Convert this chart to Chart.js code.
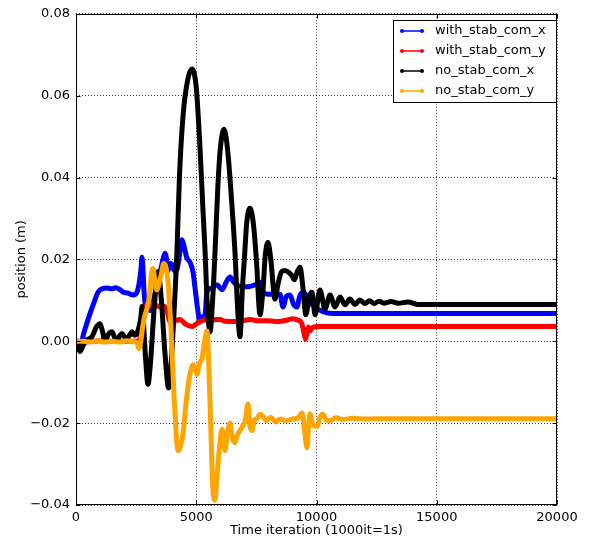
<!DOCTYPE html>
<html>
<head>
<meta charset="utf-8">
<script src="https://cdn.jsdelivr.net/npm/chart.js@4/dist/chart.umd.min.js"></script>
<style>
html,body{margin:0;padding:0;background:#fff;}
#wrap{width:594px;height:544px;position:relative;}
</style>
</head>
<body>
<div id="wrap"><canvas id="c" width="594" height="544"></canvas></div>
<script>
// ---- data (x = time iteration, y = position in m) ----
const seriesLabels = ['with_stab_com_x','with_stab_com_y','no_stab_com_x','no_stab_com_y'];
const seriesColors = ['#0000ff','#ff0000','#000000','#ffa500'];
const xTicks = [0,5000,10000,15000,20000];
const yTicks = [-0.04,-0.02,0.00,0.02,0.04,0.06,0.08];

const withStabComX = [[0,0.0002],[166,-0.0008],[350,0.0025],[550,0.0062],[750,0.0095],[915,0.0120],[1080,0.0128],[1300,0.0130],[1500,0.0128],[1650,0.0131],[1830,0.0126],[1954,0.0120],[2150,0.0118],[2370,0.0113],[2536,0.0120],[2620,0.0140],[2700,0.0175],[2744,0.0205],[2790,0.0170],[2830,0.0120],[2900,0.0085],[3000,0.0078],[3100,0.0075],[3300,0.0120],[3500,0.0170],[3620,0.0200],[3701,0.0215],[3780,0.0195],[3825,0.0172],[3920,0.0190],[3992,0.0188],[4100,0.0172],[4200,0.0175],[4300,0.0210],[4407,0.0248],[4500,0.0230],[4600,0.0205],[4740,0.0193],[4865,0.0169],[4950,0.0130],[5073,0.0072],[5156,0.0048],[5280,0.0060],[5364,0.0065],[5447,0.0122],[5650,0.0130],[5863,0.0138],[6071,0.0126],[6250,0.0145],[6403,0.0157],[6550,0.0145],[6694,0.0136],[6900,0.0134],[7110,0.0133],[7350,0.0136],[7526,0.0140],[7651,0.0144],[7775,0.0120],[8000,0.0115],[8482,0.0115],[8607,0.0084],[8750,0.0110],[8898,0.0113],[9050,0.0090],[9189,0.0084],[9300,0.0110],[9439,0.0120],[9600,0.0110],[9730,0.0097],[9900,0.0085],[10146,0.0076],[10400,0.0070],[10686,0.0068],[20000,0.0068]];

const withStabComY = [[0,0],[500,-0.0001],[1000,0.0001],[1500,0],[2000,0],[2500,0],[2650,0.0003],[2750,0.0040],[2850,0.0075],[2950,0.0088],[3077,0.0088],[3250,0.0090],[3493,0.0084],[3650,0.0086],[3780,0.0075],[3909,0.0048],[4100,0.0050],[4324,0.0053],[4550,0.0042],[4823,0.0036],[5000,0.0042],[5156,0.0048],[5400,0.0052],[5600,0.0049],[5800,0.0053],[5988,0.0053],[6200,0.0049],[6528,0.0048],[6900,0.0050],[7235,0.0053],[7600,0.0050],[8000,0.0050],[8400,0.0048],[8800,0.0052],[9023,0.0055],[9200,0.0052],[9380,0.0045],[9480,0.0020],[9540,0.0005],[9600,0.0018],[9660,0.0035],[9720,0.0025],[9800,0.0032],[10021,0.0036],[20000,0.0036]];

const noStabComX = [[0,0],[42,0],[166,-0.0025],[300,-0.0010],[457,0.0004],[650,0.0010],[850,0.0035],[998,0.0043],[1100,0.0025],[1206,0.0000],[1350,0.0018],[1497,0.0023],[1600,0.0010],[1705,0.0004],[1800,0.0012],[1913,0.0019],[2000,0.0012],[2121,0.0007],[2230,0.0015],[2328,0.0023],[2430,0.0015],[2536,0.0019],[2620,0.0035],[2700,0.0060],[2744,0.0085],[2800,0.0050],[2880,-0.0030],[2994,-0.0105],[3100,-0.0050],[3250,0.0080],[3410,0.0170],[3550,0.0100],[3700,-0.0030],[3850,-0.0114],[3950,-0.0060],[4050,0.0040],[4200,0.0224],[4300,0.0400],[4450,0.0550],[4650,0.0640],[4823,0.0665],[5000,0.0620],[5150,0.0480],[5280,0.0320],[5364,0.0224],[5450,0.0100],[5572,0.0023],[5680,0.0100],[5780,0.0217],[5900,0.0380],[6000,0.0470],[6154,0.0518],[6300,0.0470],[6450,0.0360],[6611,0.0217],[6720,0.0080],[6819,0.0011],[6920,0.0130],[7000,0.0200],[7100,0.0290],[7235,0.0325],[7370,0.0290],[7500,0.0200],[7651,0.0065],[7780,0.0130],[7870,0.0210],[7983,0.0241],[8100,0.0200],[8274,0.0103],[8400,0.0140],[8550,0.0170],[8690,0.0173],[8850,0.0168],[8980,0.0160],[9080,0.0150],[9200,0.0170],[9314,0.0181],[9420,0.0140],[9560,0.0065],[9700,0.0110],[9813,0.0120],[9938,0.0065],[10146,0.0125],[10353,0.0079],[10561,0.0113],[10770,0.0084],[10977,0.0108],[11185,0.0089],[11393,0.0103],[11600,0.0090],[11800,0.0101],[12017,0.0092],[12200,0.0099],[12400,0.0092],[12600,0.0098],[12800,0.0093],[13100,0.0097],[13400,0.0093],[13800,0.0096],[14200,0.0090],[20000,0.0090]];

const noStabComY = [[0,0],[300,0],[600,-0.0002],[900,0.0001],[1200,-0.0002],[1500,0],[1800,-0.0002],[2100,0.0001],[2400,-0.0001],[2536,-0.0003],[2610,-0.0018],[2680,-0.0005],[2760,0.0030],[2850,0.0060],[2952,0.0080],[3050,0.0110],[3130,0.0160],[3202,0.0178],[3280,0.0150],[3360,0.0125],[3450,0.0140],[3550,0.0165],[3650,0.0190],[3720,0.0185],[3800,0.0160],[3870,0.0110],[3950,0.0030],[4033,-0.0080],[4120,-0.0180],[4241,-0.0267],[4330,-0.0260],[4449,-0.0226],[4560,-0.0160],[4657,-0.0110],[4760,-0.0075],[4865,-0.0058],[4960,-0.0065],[5031,-0.0081],[5130,-0.0055],[5239,-0.0042],[5350,0.0000],[5447,0.0025],[5510,-0.0040],[5600,-0.0200],[5696,-0.0364],[5780,-0.0388],[5860,-0.0335],[5950,-0.0270],[6071,-0.0215],[6130,-0.0240],[6195,-0.0267],[6300,-0.0220],[6403,-0.0200],[6500,-0.0235],[6611,-0.0248],[6700,-0.0230],[6819,-0.0218],[6950,-0.0205],[7027,-0.0196],[7152,-0.0153],[7230,-0.0205],[7318,-0.0218],[7420,-0.0192],[7526,-0.0189],[7650,-0.0178],[7775,-0.0183],[7900,-0.0194],[8100,-0.0186],[8300,-0.0197],[8500,-0.0190],[8700,-0.0194],[9000,-0.0190],[9250,-0.0186],[9397,-0.0175],[9500,-0.0215],[9605,-0.0260],[9680,-0.0200],[9730,-0.0177],[9850,-0.0205],[10021,-0.0208],[10150,-0.0185],[10270,-0.0178],[10400,-0.0192],[10561,-0.0194],[10800,-0.0187],[11100,-0.0191],[11500,-0.0188],[12000,-0.0190],[13000,-0.0189],[20000,-0.0189]];

const allSeries = [withStabComX, withStabComY, noStabComX, noStabComY];

const FONT = 'DejaVu Sans';

function fmtY(v){
  if (Math.abs(v) < 1e-9) return '0.00';
  const s = v.toFixed(2);
  return s.replace('-', '\u2212');
}

const frameTicks = {
  id: 'frameTicks',
  afterDatasetsDraw(chart){
    const {ctx, chartArea: a, scales} = chart;
    ctx.save();
    ctx.strokeStyle = '#000';
    ctx.lineWidth = 1;
    const L = Math.round(a.left)+0.5, R = Math.round(a.right)-0.5, T = Math.round(a.top)+0.5, B = Math.round(a.bottom)-0.5;
    ctx.strokeRect(L, T, R-L, B-T);
    const tl = 4;
    ctx.beginPath();
    xTicks.forEach(v => {
      const x = Math.round(scales.x.getPixelForValue(v)) + 0.5;
      ctx.moveTo(x, B); ctx.lineTo(x, B - tl);
      ctx.moveTo(x, T); ctx.lineTo(x, T + tl);
    });
    yTicks.forEach(v => {
      const y = Math.round(scales.y.getPixelForValue(v)) + 0.5;
      ctx.moveTo(L, y); ctx.lineTo(L + tl, y);
      ctx.moveTo(R, y); ctx.lineTo(R - tl, y);
    });
    ctx.stroke();
    ctx.restore();
  }
};

const boxLegend = {
  id: 'boxLegend',
  afterDraw(chart){
    const {ctx, chartArea: a} = chart;
    const w = 163, h = 82;
    const x0 = Math.round(a.right) - 164, y0 = Math.round(a.top) + 6;
    ctx.save();
    ctx.fillStyle = '#fff';
    ctx.fillRect(x0, y0, w, h);
    ctx.strokeStyle = '#000';
    ctx.lineWidth = 1;
    ctx.strokeRect(x0 + 0.5, y0 + 0.5, w, h);
    chart.data.datasets.forEach((ds, i) => {
      const y = y0 + 11 + i * 20;
      ctx.strokeStyle = ds.borderColor;
      ctx.fillStyle = ds.borderColor;
      ctx.lineWidth = 1.5;
      ctx.beginPath();
      ctx.moveTo(x0 + 9, y); ctx.lineTo(x0 + 29, y);
      ctx.stroke();
      [x0 + 9, x0 + 29].forEach(px => {
        ctx.beginPath(); ctx.arc(px, y, 2, 0, Math.PI * 2); ctx.fill();
      });
      ctx.fillStyle = '#000';
      ctx.font = '13px "' + FONT + '"';
      ctx.textBaseline = 'middle';
      ctx.textAlign = 'left';
      ctx.fillText(ds.label, x0 + 42, y);
    });
    ctx.restore();
  }
};

const datasets = allSeries.map((s, i) => ({
  label: seriesLabels[i],
  data: s.map(p => ({x: p[0], y: p[1]})),
  borderColor: seriesColors[i],
  backgroundColor: seriesColors[i],
  borderWidth: 5,
  pointRadius: 0,
  cubicInterpolationMode: 'monotone',
  borderJoinStyle: 'round',
  borderCapStyle: 'round',
  fill: false,
  order: allSeries.length - i
}));

new Chart(document.getElementById('c'), {
  type: 'line',
  data: { datasets },
  options: {
    responsive: false,
    devicePixelRatio: 1,
    animation: false,
    layout: { padding: { left: 0, top: 9, right: 37, bottom: 0 } },
    plugins: { legend: { display: false }, tooltip: { enabled: false } },
    scales: {
      x: {
        type: 'linear',
        min: 0, max: 20000,
        afterBuildTicks: sc => { sc.ticks = xTicks.map(v => ({value: v})); },
        afterFit: sc => { sc.height = 39; },
        ticks: { color: '#000', font: { family: FONT, size: 13 }, padding: 5, maxRotation: 0, callback: v => String(v) },
        grid: { color: 'rgba(0,0,0,0.75)', lineWidth: 1, drawTicks: false },
        border: { display: false, dash: [1, 2] },
        title: { display: true, text: 'Time iteration (1000it=1s)', color: '#000', font: { family: FONT, size: 13 }, padding: { top: 0, bottom: 6 } }
      },
      y: {
        type: 'linear',
        min: -0.04, max: 0.08,
        afterBuildTicks: sc => { sc.ticks = yTicks.map(v => ({value: v})); },
        afterFit: sc => { sc.width = 76; },
        ticks: { color: '#000', font: { family: FONT, size: 13 }, padding: 6, callback: v => fmtY(v) },
        grid: { color: 'rgba(0,0,0,0.75)', lineWidth: 1, drawTicks: false },
        border: { display: false, dash: [1, 2] },
        title: { display: true, text: 'position (m)', color: '#000', font: { family: FONT, size: 13 }, padding: { top: 14, bottom: 0 } }
      }
    }
  },
  plugins: [frameTicks, boxLegend]
});
</script>
</body>
</html>
